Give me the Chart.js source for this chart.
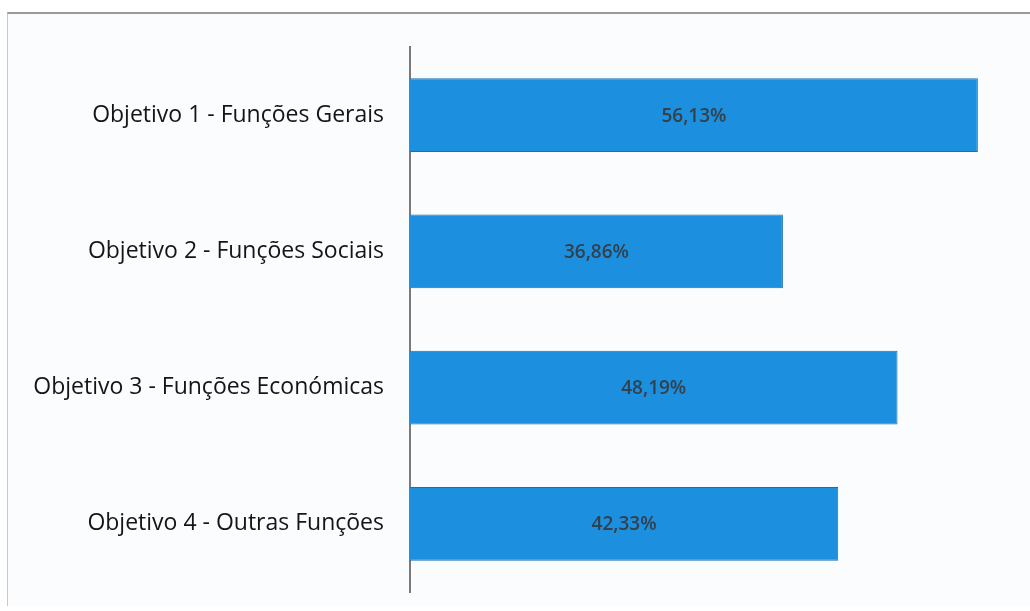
<!DOCTYPE html>
<html>
<head>
<meta charset="utf-8">
<script src="https://cdn.jsdelivr.net/npm/chart.js@4/dist/chart.umd.min.js"></script>
<style>
  html, body { margin: 0; padding: 0; background: #fff; }
  body { width: 1030px; height: 611px; position: relative; overflow: hidden; }
  #frame {
    position: absolute; left: 7px; top: 12px; width: 1040px; height: 592px;
    border-top: 2px solid #9a9a9a; border-left: 1px solid #c8c8c8;
    background: #fbfcfd;
  }
  #execChart { position: absolute; left: 0; top: 0; }
</style>
</head>
<body>
<div id="frame"></div>
<canvas id="execChart" width="1030" height="611"></canvas>
<script>
const categories = [
  "Objetivo 1 - Funções Gerais",
  "Objetivo 2 - Funções Sociais",
  "Objetivo 3 - Funções Económicas",
  "Objetivo 4 - Outras Funções"
];
const values = [56.13, 36.86, 48.19, 42.33];
const valueLabels = ["56,13%", "36,86%", "48,19%", "42,33%"];

// writes the percentage in the middle of each bar
const barLabels = {
  id: "barLabels",
  afterDatasetsDraw(chart) {
    const ctx = chart.ctx;
    const meta = chart.getDatasetMeta(0);
    ctx.save();
    ctx.font = "600 19px 'Open Sans', sans-serif";
    ctx.fillStyle = "#34404c";
    ctx.textAlign = "center";
    ctx.textBaseline = "middle";
    meta.data.forEach((bar, i) => {
      const mid = (bar.base + bar.x) / 2;
      ctx.fillText(valueLabels[i], mid, bar.y + 1);
    });
    ctx.restore();
  }
};

new Chart(document.getElementById("execChart"), {
  type: "bar",
  data: {
    labels: categories,
    datasets: [
      {
        data: values,
        backgroundColor: "#1c90de",
        borderColor: "#1670b3",
        borderWidth: 1,
        barPercentage: 0.54,
        categoryPercentage: 1.0,
      },
    ],
  },
  options: {
    indexAxis: "y",
    responsive: false,
    animation: false,
    maintainAspectRatio: false,
    layout: { padding: { top: 47, bottom: 19, right: 13, left: 0 } },
    plugins: { legend: { display: false }, tooltip: { enabled: false } },
    scales: {
      x: { display: false, min: 0, max: 60 },
      y: {
        grid: { display: false, drawTicks: false },
        border: { display: true, color: "#7a7a7a", width: 2 },
        ticks: {
          color: "#151515",
          padding: 26,
          font: { family: "'Open Sans', sans-serif", size: 23 },
        },
        afterFit(scale) {
          scale.width = 410;
          scale.paddingTop = 0;
          scale.paddingBottom = 0;
        },
      },
    },
  },
  plugins: [barLabels],
});
</script>
</body>
</html>
